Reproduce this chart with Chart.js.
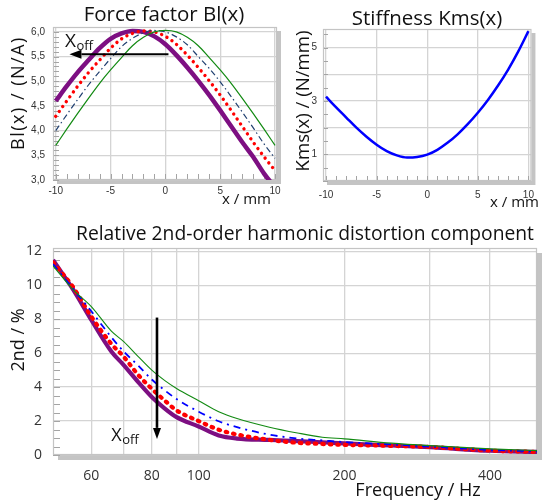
<!DOCTYPE html>
<html><head><meta charset="utf-8">
<script src="https://cdn.jsdelivr.net/npm/chart.js@4/dist/chart.umd.min.js"></script>
<style>
html,body{margin:0;padding:0;background:#fff;}
#wrap{position:relative;width:542px;height:504px;overflow:hidden;background:#fff;}
canvas{position:absolute;}
</style></head><body>
<div id="wrap">
<canvas id="c1" width="290" height="212" style="left:0;top:0"></canvas>
<canvas id="c2" width="252" height="212" style="left:290px;top:0"></canvas>
<canvas id="c3" width="542" height="292" style="left:0;top:212px"></canvas>
</div>
<script>
// ---------- Force factor Bl(x) ----------
const blX      = [-10,-9,-8,-7,-6,-5,-4,-3,-2,-1,0,1,2,3,4,5,6,7,8,9,10];
const blGreen  = [3.70,4.03,4.35,4.66,4.96,5.23,5.48,5.72,5.89,6.00,6.03,6.00,5.89,5.72,5.48,5.23,4.96,4.66,4.35,4.03,3.70];
const blBlue   = [4.00,4.32,4.63,4.93,5.20,5.46,5.70,5.87,5.98,6.03,6.00,5.90,5.74,5.50,5.26,4.99,4.69,4.38,4.06,3.73,3.44];
const blRed    = [4.29,4.60,4.90,5.18,5.43,5.67,5.86,5.97,6.02,6.00,5.91,5.75,5.53,5.28,5.01,4.72,4.41,4.09,3.77,3.47,3.19];
const blPurple = [4.60,4.90,5.18,5.43,5.67,5.86,5.97,6.02,6.00,5.91,5.75,5.53,5.28,5.01,4.72,4.41,4.09,3.77,3.47,3.13,2.85];
const blXTicks = [-10,-5,0,5,10];
const blYTicks = [3.0,3.5,4.0,4.5,5.0,5.5,6.0];
const blArrowX = [0.28, -8.75];
const blArrowY = [5.55, 5.55];
const blLabel  = [-9.15, 5.69];

// ---------- Stiffness Kms(x) ----------
const kmsX = [-10,-9,-8,-7,-6,-5,-4,-3,-2,-1,0,1,2,3,4,5,6,7,8,9,10];
const kmsY = [3.16,2.76,2.38,2.00,1.66,1.36,1.12,0.96,0.88,0.90,0.99,1.17,1.43,1.75,2.13,2.56,3.04,3.58,4.18,4.86,5.62];
const kmsXTicks = [-10,-5,0,5,10];
const kmsYTicks = [1,2,3,4,5];
const kmsYLabels = [1,3,5];

// ---------- 2nd-order harmonic distortion ----------
const freqs   = [50,55,60,66,70,75,80,85,90,100,110,120,140,160,180,200,250,300,400,500];
const hdGreen = [11.15,9.75,8.75,7.30,6.68,5.80,5.00,4.40,3.92,3.20,2.55,2.15,1.64,1.30,1.05,0.95,0.70,0.55,0.36,0.26];
const hdBlue  = [11.25,9.80,8.47,6.94,6.10,5.27,4.45,3.82,3.30,2.55,1.99,1.64,1.20,0.97,0.86,0.76,0.62,0.50,0.30,0.22];
const hdRed   = [11.35,9.90,8.16,6.55,5.79,4.72,3.90,3.22,2.63,2.00,1.49,1.21,0.89,0.72,0.65,0.60,0.54,0.47,0.26,0.18];
const hdPurple= [11.50,9.76,7.96,6.10,5.30,4.30,3.42,2.75,2.23,1.68,1.15,0.97,0.89,0.82,0.75,0.68,0.56,0.46,0.25,0.18];
const hdXTicks = [60,70,80,90,100,200,300,400];
const hdXLabels = [60,80,100,200,400];
const hdYTicks = [0,2,4,6,8,10,12];
const hdArrowX = [82, 82];
const hdArrowY = [8.1, 0.95];
const hdLabel  = [66, 0.85];

const TF = '"Open Sans", "Liberation Sans", sans-serif';
const SMALLF = {family:'"Liberation Sans", Arial, sans-serif', size:10};
const BIGF = {family:'"Open Sans", sans-serif', size:14};
const GRID = '#d4d4d4';

function pts(xs, ys){ return xs.map((x,i)=>({x:x, y:ys[i]})); }

function drawText(ctx, s, x, y, font, align, rot, spacing){
  ctx.save();
  ctx.translate(x, y);
  if (rot) ctx.rotate(rot);
  ctx.font = font;
  ctx.fillStyle = '#111';
  ctx.textAlign = align || 'left';
  ctx.textBaseline = 'alphabetic';
  if (spacing) { try { ctx.letterSpacing = spacing; } catch(e){} }
  ctx.fillText(s, 0, 0);
  ctx.restore();
}

function drawArrow(ctx, x0, y0, x1, y1, w, L, H){
  const dx = x1-x0, dy = y1-y0, len = Math.hypot(dx,dy);
  const ux = dx/len, uy = dy/len;
  const bx = x1 - ux*L, by = y1 - uy*L;
  ctx.save();
  ctx.strokeStyle = '#000'; ctx.fillStyle = '#000'; ctx.lineWidth = w;
  ctx.beginPath(); ctx.moveTo(x0,y0); ctx.lineTo(bx,by); ctx.stroke();
  ctx.beginPath(); ctx.moveTo(x1,y1);
  ctx.lineTo(bx - uy*H, by + ux*H); ctx.lineTo(bx + uy*H, by - ux*H);
  ctx.closePath(); ctx.fill();
  ctx.restore();
}

function deco(o){
  return {
    id:'deco',
    beforeDraw(chart){
      const {ctx, chartArea:a} = chart;
      ctx.save();
      ctx.fillStyle = '#c4c4c4';
      ctx.fillRect(a.left + o.sh, a.top + o.sh, a.right-a.left, a.bottom-a.top);
      ctx.fillStyle = '#fff';
      ctx.fillRect(a.left, a.top, a.right-a.left, a.bottom-a.top);
      ctx.restore();
    },
    beforeDatasetsDraw(chart){
      const {ctx, chartArea:a, scales} = chart;
      const xs = scales.x, ys = scales.y;
      ctx.save();
      ctx.strokeStyle = '#a4a4a4'; ctx.lineWidth = 1;
      ctx.beginPath();
      if (o.yMinor){
        const st = o.yMinor;
        const i0 = Math.ceil(ys.min/st - 1e-6), i1 = Math.floor(ys.max/st + 1e-6);
        for (let i=i0;i<=i1;i++){
          const py = Math.round(ys.getPixelForValue(i*st)) + 0.5;
          ctx.moveTo(a.left, py); ctx.lineTo(a.left + o.tickLen, py);
        }
      }
      if (o.xMinor){
        const st = o.xMinor;
        const i0 = Math.ceil(xs.min/st - 1e-6), i1 = Math.floor(xs.max/st + 1e-6);
        for (let i=i0;i<=i1;i++){
          const px = Math.round(xs.getPixelForValue(i*st)) + 0.5;
          ctx.moveTo(px, a.bottom); ctx.lineTo(px, a.bottom - o.tickLen);
        }
      }
      ctx.stroke();
      ctx.strokeStyle = '#c4c4c4'; ctx.lineWidth = 1.2;
      ctx.strokeRect(a.left+0.5, a.top+0.5, a.right-a.left-1, a.bottom-a.top-1);
      ctx.restore();
    },
    afterDraw(chart){
      const {ctx, scales} = chart;
      const xs = scales.x, ys = scales.y;
      if (o.arrow){
        const ar = o.arrow;
        drawArrow(ctx, xs.getPixelForValue(ar.x[0]), ys.getPixelForValue(ar.y[0]),
                       xs.getPixelForValue(ar.x[1]), ys.getPixelForValue(ar.y[1]), ar.w, ar.L, ar.H);
      }
      if (o.xoff){
        const px = xs.getPixelForValue(o.xoff.pos[0]), py = ys.getPixelForValue(o.xoff.pos[1]);
        ctx.save();
        ctx.font = o.xoff.big + 'px ' + TF;
        const w = ctx.measureText('X').width;
        ctx.restore();
        drawText(ctx, 'X', px, py, o.xoff.big + 'px ' + TF, 'left');
        drawText(ctx, 'off', px + w + 0.5, py + o.xoff.sub, o.xoff.small + 'px ' + TF, 'left');
      }
      for (const t of o.texts){
        drawText(ctx, t.s, t.x, t.y, t.f, t.a, t.r, t.sp);
      }
    }
  };
}

function makeChart(id, o){
  return new Chart(document.getElementById(id), {
    type:'line',
    data:{datasets:o.datasets},
    options:{
      responsive:false, animation:false, devicePixelRatio:1, events:[],
      layout:{autoPadding:false, padding:o.padding},
      plugins:{legend:{display:false}, tooltip:{enabled:false}, title:{display:false}},
      elements:{point:{radius:0}, line:{cubicInterpolationMode:'monotone'}},
      scales:{
        x:{type:o.xType, position:'bottom', min:o.xMin, max:o.xMax, bounds:'data',
           afterBuildTicks:s=>{ s.ticks = o.xTicks.map(v=>({value:v})); },
           afterFit:s=>{ s.height = o.xH; },
           grid:{color:GRID, lineWidth:1.3, drawTicks:false},
           border:{display:false},
           ticks:{padding:o.xPad, font:o.tickFont, color:'#333', maxRotation:0, minRotation:0, autoSkip:false,
                  callback:o.xLabel}},
        y:{type:'linear', position:'left', min:o.yMin, max:o.yMax, bounds:'data',
           afterBuildTicks:s=>{ s.ticks = o.yTicks.map(v=>({value:v})); },
           afterFit:s=>{ s.width = o.yW; },
           grid:{color:GRID, lineWidth:1.3, drawTicks:false},
           border:{display:false},
           ticks:{padding:o.yPad, font:o.tickFont, color:'#333', autoSkip:false, callback:o.yLabel}}
      }
    },
    plugins:[deco(o)]
  });
}

// Chart 1: Bl(x)
makeChart('c1', {
  datasets:[
    {data:pts(blX, blGreen), borderColor:'#128a12', borderWidth:1.2},
    {data:pts(blX, blBlue), borderColor:'#1f3f70', borderWidth:1.2, borderDash:[6,3,1.5,3]},
    {data:pts(blX, blRed), borderColor:'#ff0000', borderWidth:3.4, borderDash:[0.01,6], borderCapStyle:'round'},
    {data:pts(blX, blPurple), borderColor:'#7d0f82', borderWidth:4.5}
  ],
  padding:{left:0, top:27, right:13, bottom:0},
  xType:'linear', xMin:-10.25, xMax:10.18, xTicks:blXTicks, xH:32, xPad:5,
  yMin:3.0, yMax:6.1, yTicks:blYTicks, yW:53, yPad:8,
  tickFont:SMALLF,
  xLabel:v=>String(v),
  yLabel:v=>v.toFixed(1).replace('.', ','),
  sh:4, yMinor:0.1, xMinor:1, tickLen:6,
  arrow:{x:blArrowX, y:blArrowY, w:2, L:12, H:4.5},
  xoff:{pos:blLabel, big:19, small:13, sub:3},
  texts:[
    {s:'Force factor Bl(x)', x:164, y:21, f:'20.5px '+TF, a:'center'},
    {s:'Bl(x) / (N/A)', x:24, y:93, f:'18px '+TF, a:'center', r:-Math.PI/2, sp:'1.5px'},
    {s:'x / mm', x:222, y:204, f:'15px '+TF, a:'left'}
  ]
});

// Chart 2: Kms(x)
makeChart('c2', {
  datasets:[
    {data:pts(kmsX, kmsY), borderColor:'#0000ff', borderWidth:2.5}
  ],
  padding:{left:0, top:29, right:2, bottom:0},
  xType:'linear', xMin:-10.3, xMax:10.3, xTicks:kmsXTicks, xH:31, xPad:8,
  yMin:0, yMax:5.7, yTicks:kmsYTicks, yW:33, yPad:6,
  tickFont:SMALLF,
  xLabel:v=>String(v),
  yLabel:v=>kmsYLabels.includes(v) ? String(v) : '',
  sh:4, yMinor:0.5, xMinor:1, tickLen:5,
  texts:[
    {s:'Stiffness Kms(x)', x:137, y:25, f:'20.5px '+TF, a:'center'},
    {s:'Kms(x) / (N/mm)', x:19, y:101, f:'18.6px '+TF, a:'center', r:-Math.PI/2},
    {s:'x / mm', x:200, y:207, f:'15px '+TF, a:'left'}
  ]
});

// Chart 3: harmonic distortion
makeChart('c3', {
  datasets:[
    {data:pts(freqs, hdGreen), borderColor:'#128a12', borderWidth:1.1},
    {data:pts(freqs, hdBlue), borderColor:'#0000ff', borderWidth:1.8, borderDash:[7,5,2,5]},
    {data:pts(freqs, hdRed), borderColor:'#ff0000', borderWidth:4.2, borderDash:[1.5,6], borderCapStyle:'round'},
    {data:pts(freqs, hdPurple), borderColor:'#7d0f82', borderWidth:4.2}
  ],
  padding:{left:0, top:36, right:5, bottom:0},
  xType:'logarithmic', xMin:50, xMax:500, xTicks:hdXTicks, xH:49, xPad:13,
  yMin:0, yMax:12.2, yTicks:hdYTicks, yW:53, yPad:11,
  tickFont:BIGF,
  xLabel:v=>hdXLabels.includes(v) ? String(v) : '',
  yLabel:v=>String(v),
  sh:5, yMinor:0.5, xMinor:0, tickLen:7,
  arrow:{x:hdArrowX, y:hdArrowY, w:2.6, L:11, H:4},
  xoff:{pos:hdLabel, big:18, small:13, sub:3},
  texts:[
    {s:'Relative 2nd-order harmonic distortion component', x:305, y:28, f:'19.3px '+TF, a:'center'},
    {s:'2nd / %', x:24, y:128, f:'18px '+TF, a:'center', r:-Math.PI/2},
    {s:'Frequency / Hz', x:418, y:284, f:'18px '+TF, a:'center'}
  ]
});
</script>
</body></html>
